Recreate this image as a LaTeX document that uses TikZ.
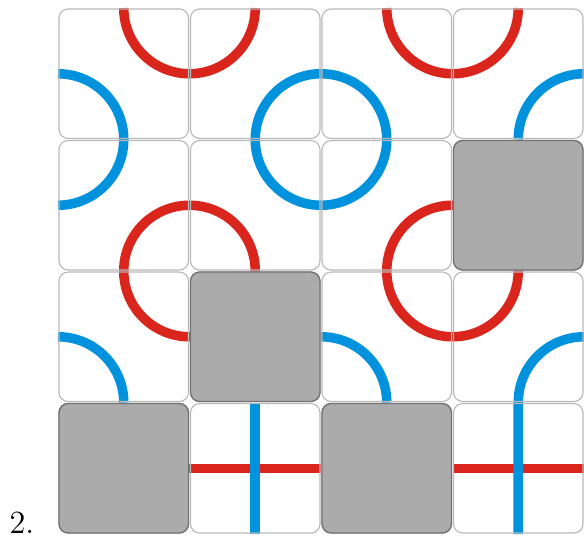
\documentclass[tikz,border=0pt]{standalone}
\definecolor{trackred}{RGB}{218,37,29}
\definecolor{trackblue}{RGB}{0,146,221}

\begin{document}
\begin{tikzpicture}[
  tile/.style={
    draw=gray!55, line width=0.5pt, rounded corners=0.14cm,
    minimum size=1.97cm, inner sep=0pt, outer sep=0pt
  },
  block/.style={
    tile, draw=black!55, line width=0.6pt, fill=gray!66
  },
  redtrack/.style={draw=trackred, line width=0.145cm},
  bluetrack/.style={draw=trackblue, line width=0.145cm},
  lbl/.style={font=\fontsize{14}{16}\selectfont, anchor=base},
]
  \def\ts{2}
  \useasboundingbox (-0.882,-0.167) rectangle (8,8.122);

  % --- Red tracks ---
  \draw[redtrack] (1,8) arc[start angle=180, end angle=360, radius=1];
  \draw[redtrack] (5,8) arc[start angle=180, end angle=360, radius=1];
  \draw[redtrack] (2,4) circle[radius=1];
  \draw[redtrack] (6,4) circle[radius=1];
  \draw[redtrack] (2,1) -- (4,1);
  \draw[redtrack] (6,1) -- (8,1);

  % --- Blue tracks (over the red ones) ---
  \draw[bluetrack] (0,7) arc[start angle=90, end angle=-90, radius=1];
  \draw[bluetrack] (4,6) circle[radius=1];
  \draw[bluetrack] (7,6) arc[start angle=180, end angle=90, radius=1];
  \draw[bluetrack] (0,3) arc[start angle=90, end angle=0, radius=1];
  \draw[bluetrack] (4,3) arc[start angle=90, end angle=0, radius=1];
  \draw[bluetrack] (3,0) -- (3,2);
  \draw[bluetrack] (7,0) -- (7,2) arc[start angle=180, end angle=90, radius=1];

  % --- Tile outlines ---
  \foreach \c in {0,...,3}
    \foreach \r in {0,...,3}
      \node[tile] (t-\c-\r) at ({\c*\ts+1}, {8-\r*\ts-1}) {};

  % --- Blocked tiles ---
  \foreach \c/\r in {3/1, 1/2, 0/3, 2/3}
    \node[block] (b-\c-\r) at ({\c*\ts+1}, {8-\r*\ts-1}) {};

  % --- Puzzle number ---
  \node[lbl] (num) at (-0.55, 0.015) {2.};

\end{tikzpicture}
\end{document}
